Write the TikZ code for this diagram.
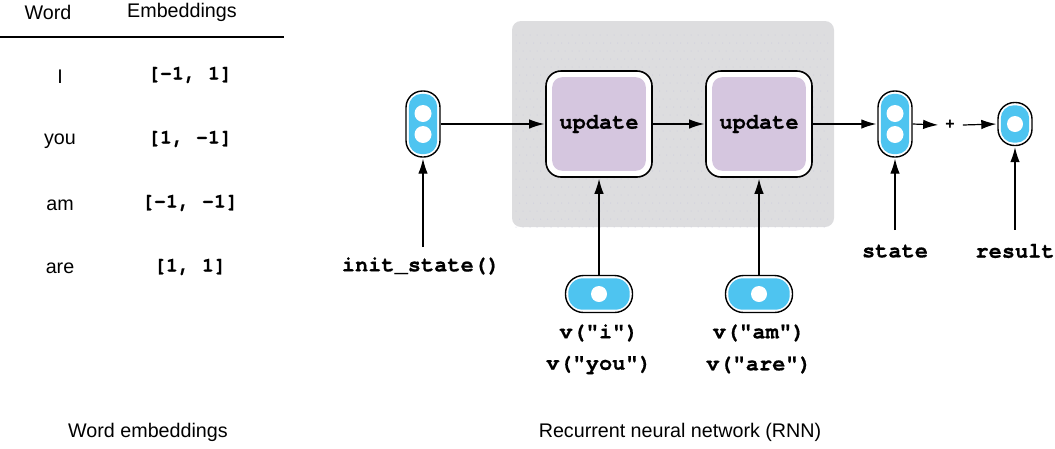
\documentclass[tikz,border=0pt]{standalone}
\usepackage{fontspec}
\setmainfont{Liberation Sans}
\setmonofont{TeX Gyre Cursor}[BoldFeatures={FakeBold=0.6}]
\usetikzlibrary{calc,arrows.meta}
\definecolor{capblue}{HTML}{4EC4F0}
\definecolor{updpurple}{HTML}{D5C6DF}
\definecolor{regiongray}{HTML}{DDDDDF}
\definecolor{dotcol}{HTML}{C9C9DE}
\tikzset{
  lbl/.style={font=\fontsize{19.7}{22}\selectfont, inner sep=0pt, anchor=center},
  code/.style={font=\fontsize{22}{24}\ttfamily\bfseries, inner sep=0pt, anchor=center},
  emb/.style={font=\fontsize{20}{22}\ttfamily\bfseries, inner sep=0pt, anchor=center},
  updbox/.style={draw=black, line width=1.6pt, fill=white, rounded corners=15pt,
    minimum width=106pt, minimum height=106pt, inner sep=0pt},
  vcap/.style={draw=black, line width=1.4pt, fill=white, rounded corners=16.5pt,
    minimum width=34pt, minimum height=66pt, inner sep=0pt},
  rcap/.style={draw=black, line width=1.4pt, fill=white, rounded corners=16.5pt,
    minimum width=34pt, minimum height=43pt, inner sep=0pt},
  hcap/.style={draw=black, line width=1.4pt, fill=white, rounded corners=18pt,
    minimum width=67pt, minimum height=37pt, inner sep=0pt},
  conn/.style={line width=1.2pt, shorten >=1pt, -{Latex[length=15pt,width=9.5pt]}},
}
\begin{document}
\begin{tikzpicture}[x=1pt,y=-1pt]
\useasboundingbox (0,0) rectangle (1055,448);

% region
\fill[regiongray, rounded corners=9pt] (512,21) rectangle (834,227);
\foreach \i in {0,...,44}{
  \foreach \j in {0,...,24}{
    \fill[dotcol] ({516+7*\i+mod(\j,2)*3.5},{35+8*\j}) circle (0.5pt);
  }
}

% table
\node[lbl] (hword) at (48,12) {Word};
\node[lbl] (hemb) at (182,12) {Embeddings};
\draw[line width=1.2pt] (0,37) -- (284,37);
\node[lbl] (w1) at (60,77) {I};
\node[lbl] (w2) at (60,141) {you};
\node[lbl] (w3) at (60,205) {am};
\node[lbl] (w4) at (60,268) {are};
\node[emb] (e1) at (190,75) {[-1, 1]};
\node[emb] (e2) at (190,139) {[1, -1]};
\node[emb] (e3) at (190,203) {[-1, -1]};
\node[emb] (e4) at (190,267) {[1, 1]};
\node[lbl] (cap1) at (148,432) {Word embeddings};
\node[lbl] (cap2) at (680,432) {Recurrent neural network (RNN)};

% update boxes
\node[updbox] (u1) at (599,124) {};
\fill[updpurple, rounded corners=10pt] ($(u1.north west)+(7,7)$) rectangle ($(u1.south east)+(-7,-7)$);
\node[code] at (u1) {update};
\node[updbox] (u2) at (759,124) {};
\fill[updpurple, rounded corners=10pt] ($(u2.north west)+(7,7)$) rectangle ($(u2.south east)+(-7,-7)$);
\node[code] at (u2) {update};

% vertical capsules
\foreach \n/\x in {init/423, st/895}{
  \node[vcap] (\n) at (\x,124) {};
  \fill[capblue, rounded corners=13pt] ($(\n.north west)+(3.5,3.5)$) rectangle ($(\n.south east)+(-3.5,-3.5)$);
  \fill[white] ($(\n.center)+(0,-10.5)$) circle (8.5pt);
  \fill[white] ($(\n.center)+(0,10.5)$) circle (8.5pt);
}
% result capsule
\node[rcap] (res) at (1015,124) {};
\fill[capblue, rounded corners=13pt] ($(res.north west)+(3.5,3.5)$) rectangle ($(res.south east)+(-3.5,-3.5)$);
\fill[white] (res.center) circle (8pt);

% input capsules
\foreach \n/\x in {in1/599, in2/759}{
  \node[hcap] (\n) at (\x,294) {};
  \fill[capblue, rounded corners=14.5pt] ($(\n.north west)+(3.5,3.5)$) rectangle ($(\n.south east)+(-3.5,-3.5)$);
  \fill[white] (\n.center) circle (8pt);
}

% labels
\node[code] (linit) at (421,266) {init\_state()};
\node[code] (lst) at (895,251) {state};
\node[code] (lres) at (1015,251) {result};
\node[code] (li) at (599,333) {v("i")};
\node[code] (lyou) at (599,365) {v("you")};
\node[code] (lam) at (759,333) {v("am")};
\node[code] (lare) at (759,365) {v("are")};
\node[font=\fontsize{16}{18}\selectfont\bfseries, inner sep=0pt] (plus) at (950,125) {+};

% connectors
\draw[conn] (init.east) -- (u1.west);
\draw[conn] (u1.east) -- (u2.west);
\draw[conn] (u2.east) -- (st.west);
\draw[conn] (st.east) -- ($(plus.west)+(-6,0)$);
\draw[conn] ($(plus.east)+(8,0)$) -- (res.west);
\draw[conn] ($(linit.north)+(2,-10)$) -- (init.south);
\draw[conn] ($(lst.north)+(0,-14)$) -- (st.south);
\draw[conn] ($(lres.north)+(0,-14)$) -- (res.south);
\draw[conn] (in1.north) -- (u1.south);
\draw[conn] (in2.north) -- (u2.south);
\end{tikzpicture}
\end{document}
